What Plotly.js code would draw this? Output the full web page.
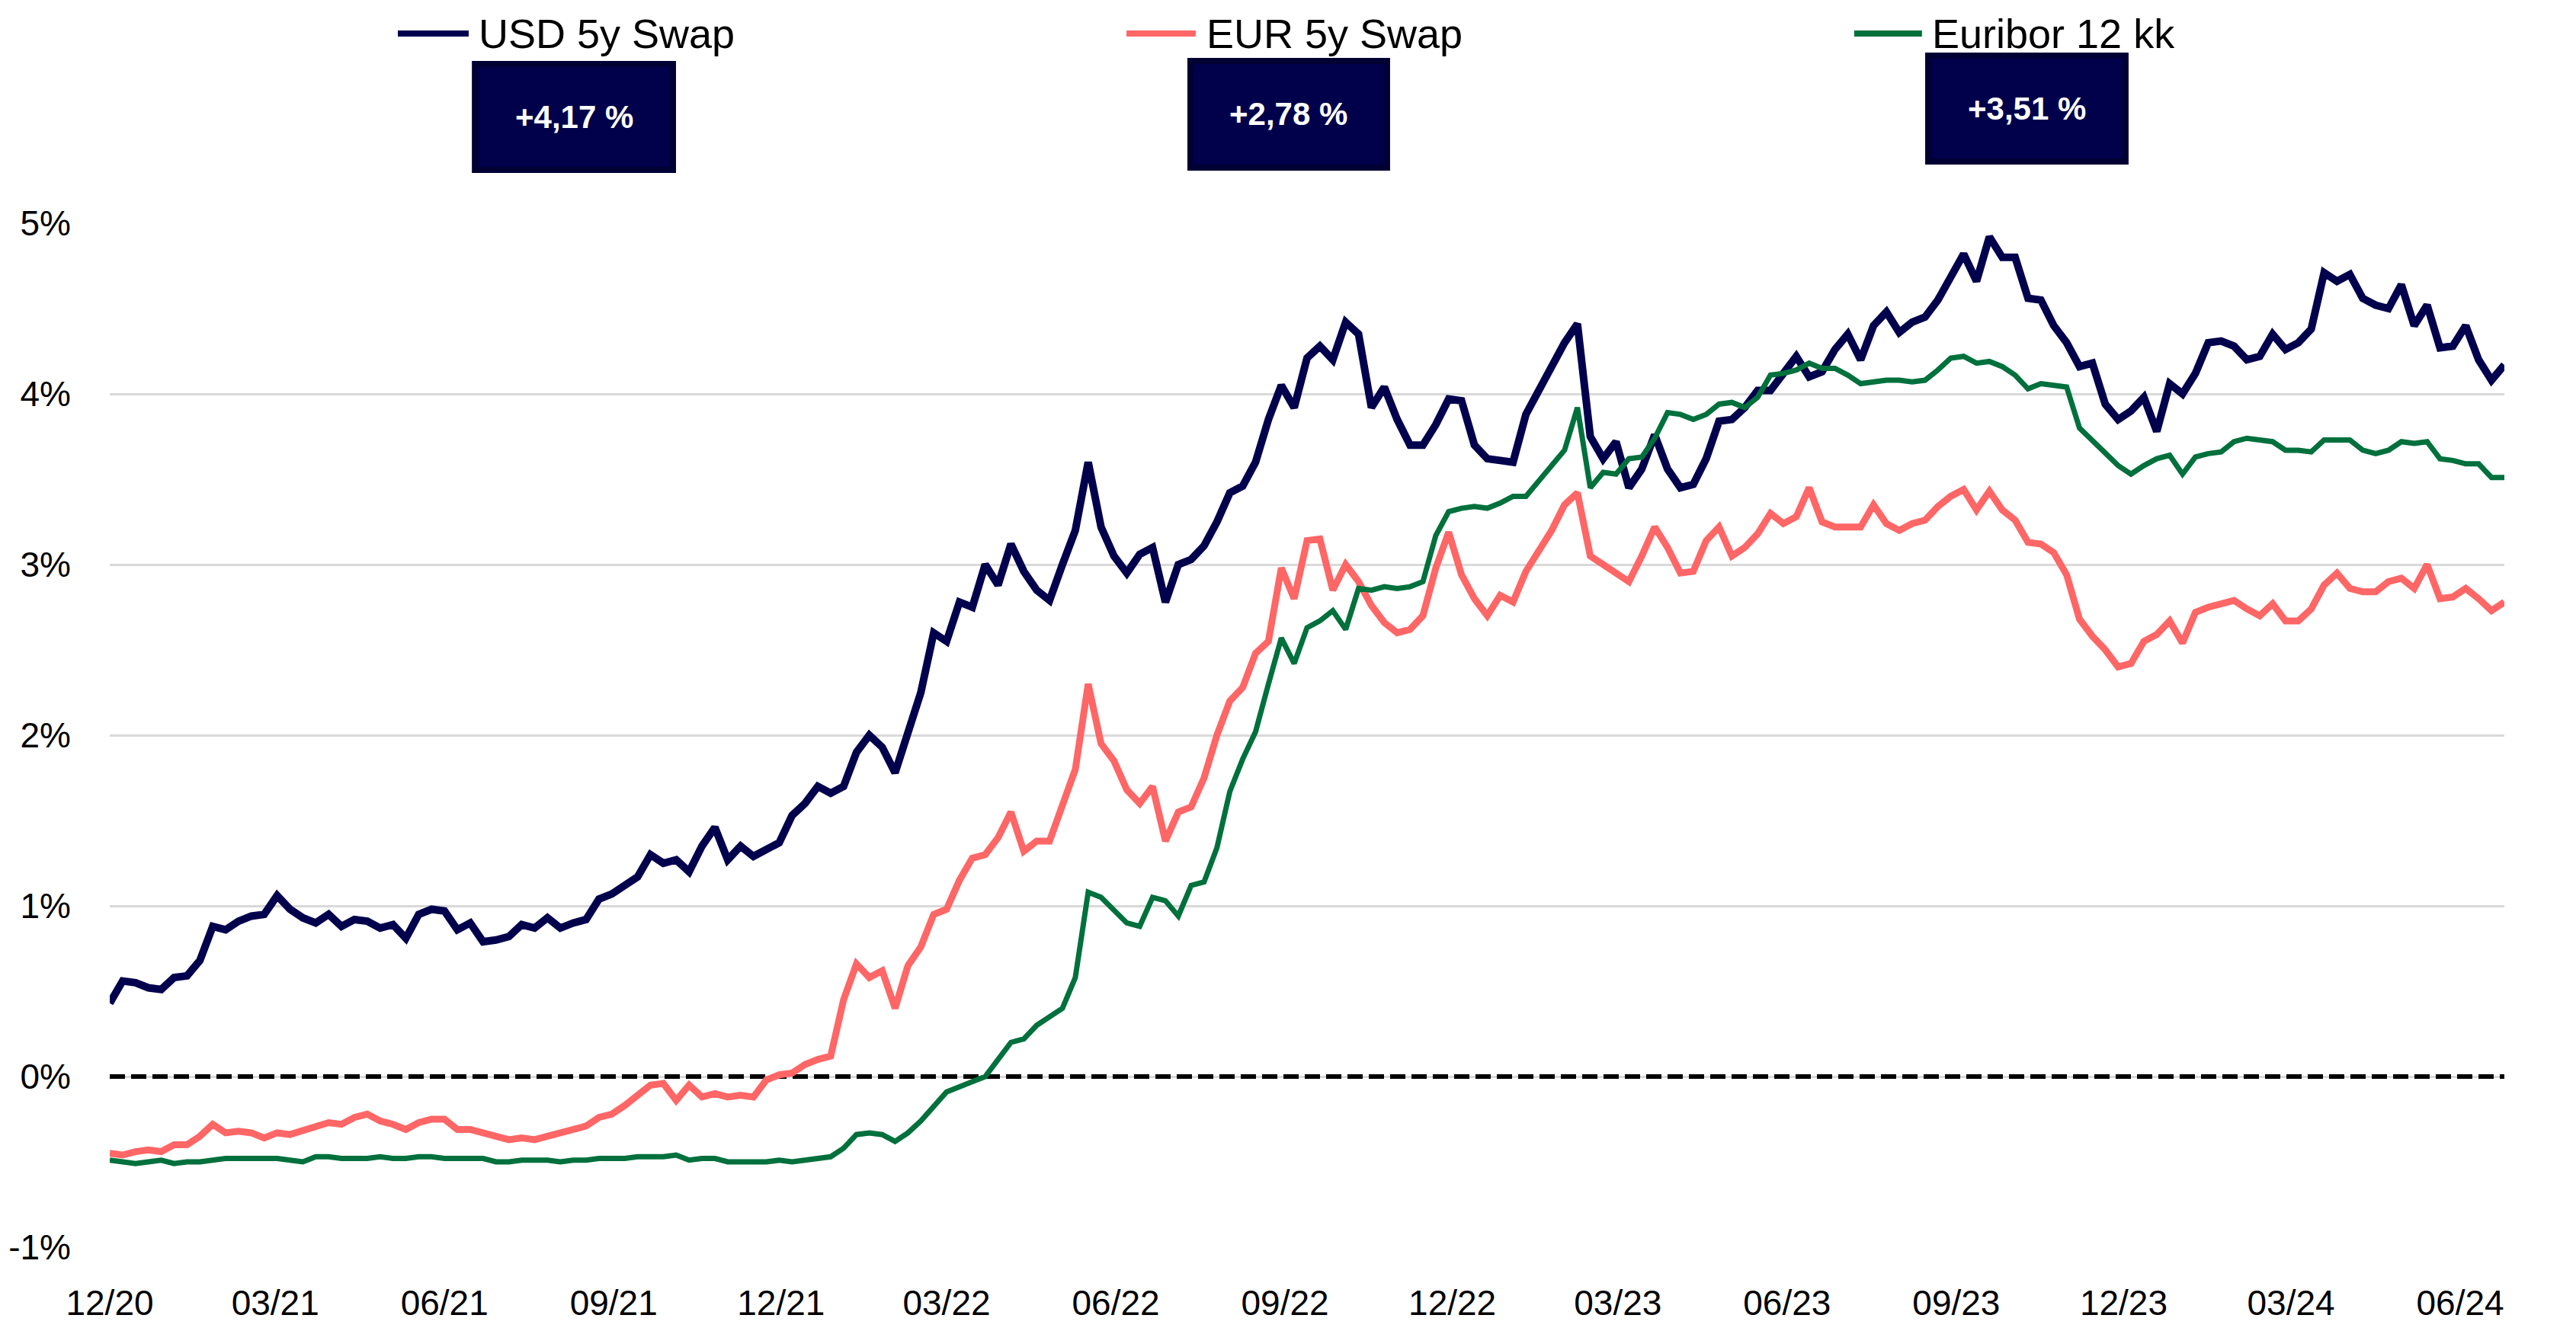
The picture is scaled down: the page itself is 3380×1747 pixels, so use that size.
<!DOCTYPE html>
<html>
<head>
<meta charset="utf-8">
<script src="https://cdn.plot.ly/plotly-3.0.1.min.js"></script>
<style>
html,body{margin:0;padding:0;background:#ffffff;}
#chart{width:3380px;height:1747px;}
</style>
</head>
<body>
<div id="chart"></div>
<script>
// ---- DATA (weekly observations starting 2020-12-01) ----
const startDate = '2020-12-01';
const stepDays = 7;

const seriesNames = ['USD 5y Swap', 'EUR 5y Swap', 'Euribor 12 kk'];

const usd5y = [
  0.43,0.56,0.55,0.52,0.51,0.58,0.59,0.68,0.88,0.86,0.91,0.94,0.95,1.06,0.98,0.93,0.90,0.95,0.88,0.92,0.91,0.87,0.89,0.81,0.95,0.98,0.97,
  0.86,0.90,0.79,0.80,0.82,0.89,0.87,0.93,0.87,0.90,0.92,1.04,1.07,1.12,1.17,1.30,1.25,1.27,1.20,1.35,1.46,1.27,1.35,1.29,1.33,1.37,
  1.53,1.60,1.70,1.66,1.70,1.90,2.00,1.93,1.78,2.00,2.25,2.60,2.55,2.78,2.75,3.00,2.88,3.12,2.96,2.85,2.79,3.00,3.20,3.60,3.22,3.05,
  2.95,3.06,3.10,2.78,3.00,3.03,3.11,3.25,3.42,3.46,3.60,3.85,4.05,3.92,4.21,4.28,4.20,4.42,4.35,3.92,4.04,3.85,3.70,3.70,3.82,3.97,
  3.96,3.70,3.62,3.61,3.60,3.88,4.02,4.18,4.30,4.41,3.75,3.62,3.72,3.45,3.56,3.76,3.56,3.45,3.47,3.62,3.84,3.85,3.92,4.02,4.02,4.12,
  4.22,4.10,4.13,4.26,4.35,4.20,4.40,4.48,4.36,4.42,4.45,4.55,4.68,4.82,4.66,4.92,4.80,4.80,4.56,4.55,4.40,4.30,4.16,4.18,3.94,3.85,
  3.90,3.98,3.78,4.06,4.00,4.12,4.30,4.31,4.28,4.20,4.22,4.35,4.26,4.30,4.38,4.71,4.66,4.70,4.56,4.52,4.50,4.64,4.40,4.52,4.27,4.28,4.40,4.20,4.08,4.17
];

const eur5y = [
  -0.45,-0.46,-0.44,-0.43,-0.44,-0.40,-0.40,-0.35,-0.28,-0.33,-0.32,-0.33,-0.36,-0.33,-0.34,-0.32,-0.30,-0.27,-0.28,-0.24,-0.22,-0.26,-0.28,-0.31,-0.27,-0.25,-0.25,
  -0.31,-0.31,-0.33,-0.35,-0.37,-0.36,-0.37,-0.35,-0.33,-0.31,-0.29,-0.24,-0.22,-0.17,-0.11,-0.05,-0.04,-0.14,-0.05,-0.12,-0.10,-0.12,-0.11,-0.12,-0.02,0.01,
  0.02,0.07,0.10,0.12,0.45,0.66,0.58,0.62,0.40,0.65,0.76,0.95,0.98,1.15,1.28,1.30,1.40,1.55,1.32,1.38,1.38,1.60,1.80,2.30,1.95,1.85,
  1.68,1.60,1.70,1.38,1.55,1.58,1.75,2.00,2.20,2.28,2.48,2.55,2.98,2.80,3.14,3.15,2.85,3.00,2.90,2.76,2.66,2.60,2.62,2.70,2.98,3.19,
  2.94,2.80,2.70,2.82,2.78,2.96,3.08,3.20,3.35,3.42,3.05,3.00,2.96,2.90,3.05,3.22,3.10,2.95,2.96,3.14,3.22,3.05,3.10,3.18,3.30,3.24,
  3.28,3.45,3.25,3.22,3.22,3.22,3.35,3.24,3.20,3.24,3.26,3.34,3.40,3.44,3.32,3.43,3.32,3.26,3.13,3.12,3.07,2.94,2.68,2.58,2.50,2.40,
  2.42,2.55,2.59,2.67,2.54,2.72,2.75,2.77,2.79,2.74,2.70,2.77,2.67,2.67,2.74,2.88,2.95,2.86,2.84,2.84,2.90,2.92,2.86,3.00,2.80,2.81,2.86,2.80,2.73,2.78
];

const euribor12 = [
  -0.49,-0.50,-0.51,-0.50,-0.49,-0.51,-0.50,-0.50,-0.49,-0.48,-0.48,-0.48,-0.48,-0.48,-0.49,-0.50,-0.47,-0.47,-0.48,-0.48,-0.48,-0.47,-0.48,-0.48,-0.47,-0.47,-0.48,
  -0.48,-0.48,-0.48,-0.50,-0.50,-0.49,-0.49,-0.49,-0.50,-0.49,-0.49,-0.48,-0.48,-0.48,-0.47,-0.47,-0.47,-0.46,-0.49,-0.48,-0.48,-0.50,-0.50,-0.50,-0.50,-0.49,
  -0.50,-0.49,-0.48,-0.47,-0.42,-0.34,-0.33,-0.34,-0.38,-0.33,-0.26,-0.17,-0.09,-0.06,-0.03,0.00,0.10,0.20,0.22,0.30,0.35,0.40,0.58,1.08,1.05,0.97,
  0.90,0.88,1.05,1.03,0.94,1.12,1.14,1.34,1.67,1.86,2.02,2.30,2.57,2.42,2.63,2.67,2.73,2.62,2.86,2.85,2.87,2.86,2.87,2.90,3.17,3.31,
  3.33,3.34,3.33,3.36,3.40,3.40,3.49,3.59,3.67,3.92,3.45,3.54,3.53,3.62,3.63,3.74,3.89,3.88,3.85,3.88,3.94,3.95,3.92,3.98,4.11,4.12,
  4.14,4.18,4.15,4.15,4.11,4.06,4.07,4.08,4.08,4.07,4.08,4.14,4.21,4.22,4.18,4.19,4.16,4.11,4.03,4.06,4.05,4.04,3.80,3.73,3.65,3.58,
  3.53,3.58,3.62,3.64,3.53,3.63,3.65,3.66,3.72,3.74,3.73,3.72,3.67,3.67,3.66,3.73,3.73,3.73,3.67,3.65,3.67,3.72,3.71,3.72,3.62,3.61,3.59,3.59,3.51,3.51
];

const tickDates = ['2020-12-01','2021-03-01','2021-06-01','2021-09-01','2021-12-01','2022-03-01','2022-06-01','2022-09-01',
                   '2022-12-01','2023-03-01','2023-06-01','2023-09-01','2023-12-01','2024-03-01','2024-06-01'];
const tickLabels = ['12/20','03/21','06/21','09/21','12/21','03/22','06/22','09/22',
                    '12/22','03/23','06/23','09/23','12/23','03/24','06/24'];
const yTickVals = [-1, 0, 1, 2, 3, 4, 5];
const yTickLabels = ['-1%', '0%', '1%', '2%', '3%', '4%', '5%'];

// ---- STYLE ----
const colors = ['#00004d', '#ff6666', '#00703c'];
const widths = [10, 9, 7];
const FONT = 'Liberation Sans, Arial, sans-serif';

// build the date column
function buildDates(start, step, n) {
  const out = [];
  const t0 = Date.parse(start + 'T00:00:00Z');
  for (let i = 0; i < n; i++) {
    const d = new Date(t0 + i * step * 86400000);
    out.push(d.toISOString().slice(0, 10));
  }
  return out;
}
const dates = buildDates(startDate, stepDays, usd5y.length);

const allSeries = [usd5y, eur5y, euribor12];
const traces = allSeries.map((vals, k) => ({
  type: 'scatter',
  mode: 'lines',
  name: seriesNames[k],
  x: dates,
  y: vals,
  line: {color: colors[k], width: widths[k], shape: 'linear'},
  hoverinfo: 'skip',
  showlegend: false
}));

// custom legend + value boxes (positions in paper coordinates)
const legendLineX = [[0.1203, 0.1499], [0.4246, 0.4535], [0.7285, 0.7568]];
const legendTextX = [0.1534, 0.4574, 0.7603];
const legendY = 1.1853;
const boxX = [[0.1525, 0.2352], [0.4513, 0.5334], [0.7594, 0.8418]];
const boxY = [[1.0521, 1.1555], [1.0543, 1.1585], [1.0603, 1.1637]];

const shapes = [{
  type: 'line', xref: 'x', yref: 'y', x0: dates[0], x1: dates[dates.length - 1], y0: 0, y1: 0,
  line: {color: '#000000', width: 6, dash: '20px,8px'}, layer: 'between'
}];
const annotations = [];

function fmtLast(v) {
  return '+' + v.toFixed(2).replace('.', ',') + ' %';
}

for (let k = 0; k < 3; k++) {
  shapes.push({
    type: 'line', xref: 'paper', yref: 'paper',
    x0: legendLineX[k][0], x1: legendLineX[k][1], y0: legendY, y1: legendY,
    line: {color: colors[k], width: 8}
  });
  annotations.push({
    xref: 'paper', yref: 'paper', x: legendTextX[k], y: legendY,
    xanchor: 'left', yanchor: 'middle', showarrow: false,
    text: seriesNames[k], font: {family: FONT, size: 54, color: '#000000'}
  });
  shapes.push({
    type: 'rect', xref: 'paper', yref: 'paper',
    x0: boxX[k][0], x1: boxX[k][1], y0: boxY[k][0], y1: boxY[k][1],
    fillcolor: '#00004b', line: {color: '#000033', width: 8}
  });
  const vals = allSeries[k];
  annotations.push({
    xref: 'paper', yref: 'paper',
    x: (boxX[k][0] + boxX[k][1]) / 2, y: (boxY[k][0] + boxY[k][1]) / 2,
    xanchor: 'center', yanchor: 'middle', showarrow: false,
    text: '<b>' + fmtLast(vals[vals.length - 1]) + '</b>',
    font: {family: FONT, size: 42, color: '#ffffff'}
  });
}

const layout = {
  width: 3380,
  height: 1747,
  paper_bgcolor: '#ffffff',
  plot_bgcolor: '#ffffff',
  margin: {l: 144, r: 94, t: 293, b: 110, pad: 0},
  font: {family: FONT, size: 46, color: '#000000'},
  showlegend: false,
  xaxis: {
    type: 'date',
    range: [dates[0], dates[dates.length - 1]],
    tickmode: 'array',
    tickvals: tickDates,
    ticktext: tickLabels,
    showgrid: false,
    zeroline: false,
    showline: false,
    ticks: '',
    ticklabelstandoff: 42,
    tickfont: {family: FONT, size: 46, color: '#000000'}
  },
  yaxis: {
    range: [-1, 5],
    tickmode: 'array',
    tickvals: yTickVals,
    ticktext: yTickLabels,
    showgrid: true,
    gridcolor: '#d9d9d9',
    gridwidth: 3,
    zeroline: false,
    showline: false,
    ticks: '',
    ticklabelstandoff: 50,
    tickfont: {family: FONT, size: 46, color: '#000000'}
  },
  shapes: shapes,
  annotations: annotations
};

Plotly.newPlot('chart', traces, layout, {staticPlot: true, displayModeBar: false});
</script>
</body>
</html>
